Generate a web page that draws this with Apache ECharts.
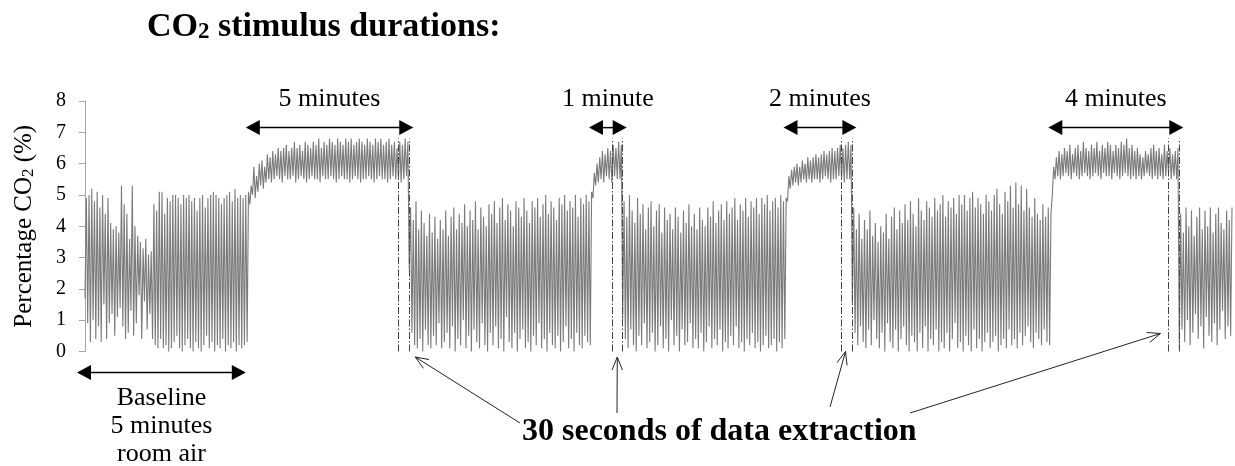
<!DOCTYPE html>
<html><head><meta charset="utf-8">
<script src="https://cdn.jsdelivr.net/npm/echarts@6/dist/echarts.min.js"></script>
<style>html,body{margin:0;padding:0;background:#fff}#c{width:1235px;height:466px}</style>
</head><body><div id="c"></div>
<script>
// ---- Data: end-tidal peaks and inspired troughs (% CO2), one pair per breath ----
// Segment A: baseline room air (5 min)
const peaksA = [4.9,5.0,5.2,4.8,5.1,4.6,5.0,4.4,4.9,4.1, 3.9,4.0,3.8,5.3,4.7,4.4,3.6,5.3,4.0,3.7, 3.5,3.3,3.6,3.1,3.2,4.7,4.5,5.1,5.1,4.4, 4.9,4.8,5.0,5.0,4.9,4.7,5.0,4.9,5.0,4.8, 4.9,4.5,4.9,5.0,4.6,4.9,5.0,5.1,5.0,4.9, 4.7,4.9,5.0,5.1,4.8,5.2,4.9,5.0,4.9,5.0, 5.1];
const troughsA = [1.7,0.9,0.3,1.0,0.4,0.8,0.3,1.5,0.4,0.9, 1.2,0.5,1.1,1.4,0.8,0.4,0.6,1.3,0.5,0.9, 1.8,0.4,1.6,0.7,1.2,0.4,0.2,0.1,0.4,0.1, 0.2,0.0,0.1,0.3,0.5,0.1,0.0,0.2,0.4,0.1, 0.0,0.3,0.1,0.0,0.2,0.5,0.1,0.3,0.0,0.2, 0.1,0.4,0.0,0.2,0.1,0.3,0.0,0.2,0.1,0.2, 0.3];
// Segment B: CO2 stimulus 5 min
const peaksB = [5.3,5.9,5.6,6.0,6.1,5.9,6.3,6.2,6.4,6.3, 6.5,6.4,6.5,6.6,6.4,6.5,6.7,6.5,6.6,6.4, 6.7,6.6,6.5,6.7,6.6,6.8,6.5,6.7,6.6,6.8, 6.7,6.6,6.8,6.7,6.6,6.8,6.7,6.8,6.6,6.7, 6.8,6.7,6.6,6.8,6.7,6.6,6.8,6.7,6.8,6.6, 6.7,6.8,6.6,6.7,6.5,6.7,6.6,6.8,6.7];
const troughsB = [4.7,5.0,4.9,5.1,5.3,5.2,5.4,5.5,5.4,5.5, 5.6,5.5,5.4,5.6,5.5,5.5,5.6,5.4,5.5,5.6, 5.5,5.4,5.5,5.6,5.5,5.5,5.4,5.6,5.5,5.5, 5.6,5.5,5.4,5.5,5.6,5.5,5.5,5.4,5.5,5.6, 5.5,5.4,5.5,5.5,5.6,5.5,5.4,5.5,5.6,5.5, 5.5,5.4,5.5,5.6,5.5,5.5,5.4,5.5,5.6];
// Segment C: room air
const peaksC = [4.6,4.2,4.8,3.9,4.5,4.1,3.7,4.4,3.8,4.3, 3.6,4.2,3.9,4.5,3.7,4.3,4.6,3.9,4.4,4.1, 4.7,4.0,4.5,4.2,4.8,3.9,4.6,4.3,4.0,4.7, 4.4,4.8,4.1,4.6,4.9,4.2,4.7,4.5,4.0,4.8, 4.6,4.3,4.9,4.5,4.1,4.8,4.6,4.9,4.3,4.7, 5.0,4.4,4.8,4.6,4.2,4.9,4.7,5.0,4.5,4.8, 4.6,5.0,4.3,4.9,4.7,5.0,4.8,5.1];
const troughsC = [2.6,0.6,0.2,0.1,0.4,0.0,0.7,0.2,0.1,0.5, 0.2,0.9,0.1,0.3,0.6,0.1,0.8,0.0,0.4,0.2, 1.0,0.1,0.5,0.0,0.7,0.3,0.1,0.9,0.2,0.0, 0.6,0.2,0.8,0.1,0.4,0.0,1.1,0.3,0.1,0.6, 0.0,0.4,0.7,0.1,0.3,0.0,0.5,0.2,0.9,0.1, 0.4,0.0,0.6,0.2,0.1,0.5,0.0,0.3,0.8,0.1, 0.4,0.0,0.6,0.2,0.1,0.5,0.3,0.2];
// Segment D: CO2 stimulus 1 min
const peaksD = [5.7,6.0,6.2,6.4,6.3,6.5,6.4,6.6,6.5,6.7,6.6];
const troughsD = [4.9,5.3,5.4,5.5,5.4,5.6,5.5,5.4,5.6,5.5,5.5];
// Segment E: room air
const peaksE = [4.8,4.3,5.0,4.5,4.1,4.9,4.4,4.7,3.9,4.6, 4.8,4.0,4.5,4.7,3.8,4.6,4.2,4.4,3.9,4.6, 4.3,3.8,4.5,4.1,4.7,4.0,4.4,3.9,4.6,4.2, 4.0,4.6,4.3,4.8,4.1,4.5,4.7,4.2,4.8,4.4, 4.6,4.9,4.2,4.7,4.5,4.9,4.3,4.8,4.6,4.9, 4.4,4.9,4.7,5.0,4.5,4.8,4.9,4.6,5.0,4.8, 4.9];
const troughsE = [1.0,0.4,0.1,0.7,0.2,0.0,0.5,0.2,0.9,0.1, 0.3,0.6,0.0,0.2,0.8,0.1,0.4,0.0,1.0,0.2, 0.5,0.0,0.7,0.2,0.3,0.9,0.1,0.4,0.1,0.6, 0.0,0.3,0.8,0.1,0.4,0.2,0.7,0.0,0.3,0.1, 0.5,0.2,0.8,0.1,0.3,0.0,0.4,0.2,0.6,0.1, 0.3,0.0,0.2,0.5,0.1,0.2,0.4,0.0,0.3,0.1, 0.4];
// Segment F: CO2 stimulus 2 min
const peaksF = [5.6,5.8,5.9,6.0,5.9,6.1,6.0,6.2,6.1,6.2, 6.3,6.2,6.3,6.4,6.3,6.4,6.5,6.4,6.5,6.6, 6.5,6.6,6.7,6.6];
const troughsF = [4.8,5.2,5.3,5.4,5.3,5.4,5.5,5.4,5.5,5.4, 5.5,5.5,5.4,5.5,5.6,5.5,5.4,5.5,5.5,5.6, 5.5,5.4,5.5,5.5];
// Segment G: room air
const peaksG = [4.6,3.9,4.4,3.6,4.2,3.9,4.5,3.7,4.1,3.5, 4.0,3.8,4.4,3.6,4.3,4.6,3.9,4.5,4.1,4.7, 4.2,4.8,4.4,4.0,4.9,4.5,4.2,4.8,4.6,4.3, 4.9,4.5,4.7,5.0,4.3,4.8,4.6,4.9,4.4,5.0, 4.7,5.0,4.5,4.9,5.1,4.6,4.9,4.7,4.4,5.0, 4.8,4.5,5.0,5.2,4.7,4.4,5.1,4.8,5.3,4.6, 5.4,4.7,5.3,4.5,5.2,4.6,4.3,4.9,4.4,4.2, 4.7,4.3,4.6,4.4];
const troughsG = [1.5,0.6,0.2,0.8,0.3,0.1,0.7,0.2,1.0,0.4, 0.1,0.6,0.0,0.9,0.3,0.1,0.7,0.0,0.4,0.8, 0.2,0.0,0.5,0.3,0.0,0.6,0.1,0.8,0.0,0.4, 0.2,0.7,0.0,0.3,0.1,0.6,0.0,0.4,0.9,0.1, 0.3,0.0,0.5,0.2,0.0,0.7,0.1,0.4,0.0,0.3, 0.6,0.1,0.3,0.5,0.0,0.2,0.4,0.1,0.7,0.2, 0.4,0.1,0.6,0.2,0.5,0.8,0.3,0.1,0.6,0.4, 0.2,0.7,0.3,0.2];
// Segment H: CO2 stimulus 4 min
const peaksH = [5.9,6.2,6.4,6.3,6.5,6.4,6.6,6.3,6.5,6.6, 6.4,6.7,6.5,6.4,6.6,6.5,6.7,6.4,6.6,6.5, 6.7,6.6,6.4,6.6,6.5,6.7,6.6,6.8,6.5,6.6, 6.4,6.5,6.3,6.2,6.4,6.3,6.5,6.6,6.4,6.5, 6.3,6.6,6.4,6.5,6.3,6.4,6.5];
const troughsH = [5.0,5.5,5.6,5.5,5.6,5.7,5.6,5.5,5.7,5.6, 5.5,5.6,5.7,5.6,5.5,5.6,5.7,5.6,5.5,5.7, 5.6,5.6,5.5,5.7,5.6,5.5,5.6,5.7,5.6,5.5, 5.6,5.5,5.6,5.5,5.6,5.7,5.6,5.5,5.6,5.5, 5.6,5.5,5.6,5.7,5.5,5.6,5.5];
// Segment I: room air
const peaksI = [4.4,3.8,4.6,4.0,4.5,3.7,4.3,4.6,3.9,4.5, 4.0,4.6,3.8,4.4,4.6,4.1,3.9,4.5,4.2,4.6];
const troughsI = [0.1,0.7,0.3,1.0,0.2,0.6,1.2,0.4,0.8,0.1, 1.1,0.5,0.3,0.9,0.2,0.7,1.3,0.4,0.8,0.5];

const yTicks = [0,1,2,3,4,5,6,7,8];
const stimulusLabels = ['5 minutes','1 minute','2 minutes','4 minutes'];
const baselineLabel = 'Baseline\n5 minutes\nroom air';
const extractionLabel = '30 seconds of data extraction';
const extractionSamples = 8; // 30-s window width, in samples

// ---- Build series ----
const segments = [[peaksA,troughsA],[peaksB,troughsB],[peaksC,troughsC],[peaksD,troughsD],[peaksE,troughsE],[peaksF,troughsF],[peaksG,troughsG],[peaksH,troughsH],[peaksI,troughsI]];
const values = [], segStart = [];
segments.forEach(([p,t]) => {
  segStart.push(values.length);
  for (let i = 0; i < Math.min(p.length,t.length); i++) { values.push(t[i]); values.push(p[i]); }
});
segStart.push(values.length);
const cats = values.map((_, i) => String(i));
const stimSegs = [1,3,5,7];
const extractionIdx = [];
stimSegs.forEach(k => { const e = segStart[k+1]; extractionIdx.push(e - extractionSamples, e); });

const SERIF = '"Liberation Serif","Times New Roman",serif';
const chart = echarts.init(document.getElementById('c'), null, {renderer:'canvas'});
chart.setOption({
  animation: false,
  grid: {left: 85, right: 3, top: 101, bottom: 114.5},
  xAxis: {type: 'category', data: cats, boundaryGap: false, show: false},
  yAxis: {
    type: 'value', min: yTicks[0], max: yTicks[yTicks.length-1], interval: 1,
    name: '{a|Percentage CO}{b|2}{a| (%)}', nameLocation: 'middle', nameGap: 48, nameRotate: 90,
    nameTextStyle: {rich: {a: {fontFamily: SERIF, fontSize: 25, color: '#000', verticalAlign: 'bottom'}, b: {fontFamily: SERIF, fontSize: 17, color: '#000', verticalAlign: 'bottom'}}},
    axisLine: {show: true, lineStyle: {color: '#a6a6a6', width: 1}},
    axisTick: {show: true, length: 6, lineStyle: {color: '#a6a6a6'}},
    splitLine: {show: false},
    axisLabel: {color: '#000', fontFamily: SERIF, fontSize: 20, margin: 19}
  },
  series: [{
    type: 'line', data: values, symbol: 'none', clip: false,
    lineStyle: {color: '#7a7a7a', width: 1.1},
    markLine: {
      silent: true, symbol: ['none','none'], label: {show: false},
      lineStyle: {color: '#444', width: 1, type: [7,2,1.5,2]},
      data: extractionIdx.map(i => [{coord: [i, 0]}, {coord: [i, 6.8]}])
    }
  }]
});

// ---- Annotations positioned through the chart's scales ----
const px = i => chart.convertToPixel({xAxisIndex: 0}, i);
const py = v => chart.convertToPixel({yAxisIndex: 0}, v);
const g = [];
function dblArrow(x1, x2, y) {
  const L = 14, H = 7.5;
  g.push({type: 'line', shape: {x1: x1 + L - 1, y1: y, x2: x2 - L + 1, y2: y}, style: {stroke: '#000', lineWidth: 1.5}});
  g.push({type: 'polygon', shape: {points: [[x1, y], [x1 + L, y - H], [x1 + L, y + H]]}, style: {fill: '#000'}});
  g.push({type: 'polygon', shape: {points: [[x2, y], [x2 - L, y - H], [x2 - L, y + H]]}, style: {fill: '#000'}});
}
function pointer(x1, y1, x2, y2) {
  const a = Math.atan2(y2 - y1, x2 - x1), L = 14, s = 0.38;
  g.push({type: 'polyline', shape: {points: [[x1, y1], [x2, y2]]}, style: {stroke: '#222', lineWidth: 1}});
  g.push({type: 'polyline', shape: {points: [[x2 - L*Math.cos(a - s), y2 - L*Math.sin(a - s)], [x2, y2], [x2 - L*Math.cos(a + s), y2 - L*Math.sin(a + s)]]}, style: {stroke: '#222', lineWidth: 1, fill: null}});
}
const yArrow = py(7.15);
stimSegs.forEach((k, j) => {
  const x1 = px(segStart[k]) - 4, x2 = px(segStart[k+1]) + 4;
  dblArrow(x1, x2, yArrow);
  g.push({type: 'text', x: (x1 + x2) / 2, y: py(8.05), style: {text: stimulusLabels[j], font: '26px ' + SERIF, fill: '#000', align: 'center', verticalAlign: 'middle'}});
});
// baseline
const bx1 = px(segStart[0]) - 8, bx2 = px(segStart[1]) - 4, by = py(-0.67);
dblArrow(bx1, bx2, by);
g.push({type: 'text', x: (bx1 + bx2) / 2, y: by + 12, style: {text: baselineLabel, font: '26px ' + SERIF, lineHeight: 28, fill: '#000', align: 'center', verticalAlign: 'top'}});
// title
g.push({type: 'text', x: 147, y: 27, style: {text: '{a|CO}{b|2}{a| stimulus durations:}', rich: {a: {font: 'bold 34px ' + SERIF, fill: '#000', verticalAlign: 'bottom'}, b: {font: 'bold 23px ' + SERIF, fill: '#000', verticalAlign: 'bottom'}}, align: 'left', verticalAlign: 'middle'}});
// extraction label
g.push({type: 'text', x: 522, y: 432, style: {text: extractionLabel, font: 'bold 32px ' + SERIF, fill: '#000', align: 'left', verticalAlign: 'middle'}});
// pointers to extraction windows
const y0 = py(0);
pointer(520, 423, px(extractionIdx[1]) + 6, y0 + 5.5);
pointer(617, 413, (px(extractionIdx[2]) + px(extractionIdx[3])) / 2, y0 + 5.5);
pointer(830, 407, px(extractionIdx[4]) + 4, y0 + 0);
pointer(910, 413, px(extractionIdx[6]) - 8, y0 - 18);
chart.setOption({graphic: g.map(e => Object.assign({silent: true}, e))});
</script>
</body></html>
